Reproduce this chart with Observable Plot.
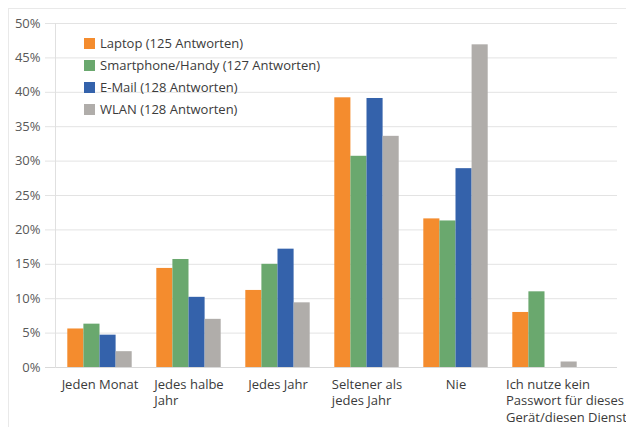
<!DOCTYPE html>
<html>
<head>
<meta charset="utf-8">
<script src="https://cdn.jsdelivr.net/npm/d3@7"></script>
<script src="https://cdn.jsdelivr.net/npm/@observablehq/plot@0.6"></script>
<style>
  body { margin: 0; background: #fff; font-family: "Open Sans", sans-serif; }
  #wrap { position: relative; width: 626px; height: 427px; overflow: hidden; background: #fff; }
  #border { position: absolute; left: 8px; top: 8px; width: 800px; height: 600px;
            border-left: 1px solid #e9e9e9; border-top: 1px solid #e9e9e9; pointer-events: none; }
  #chart { position: absolute; left: 0; top: 0; }
  #legend { position: absolute; left: 84px; top: 32px; font-size: 13px; color: #3b3b3b; }
  .row { display: flex; align-items: center; height: 22px; white-space: nowrap; }
  .sw { width: 11px; height: 11px; margin-right: 5px; }
</style>
</head>
<body>
<div id="wrap">
  <div id="border"></div>
  <div id="chart"></div>
  <div id="legend"></div>
</div>
<script>
// ---- data ----
const categories = ["Jeden Monat", "Jedes halbe Jahr", "Jedes Jahr", "Seltener als jedes Jahr", "Nie", "Ich nutze kein Passwort für dieses Gerät/diesen Dienst"];
const categoryLabels = ["Jeden Monat", "Jedes halbe\nJahr", "Jedes Jahr", "Seltener als\njedes Jahr", "Nie", "Ich nutze kein\nPasswort für dieses\nGerät/diesen Dienst"];
const seriesNames = ["Laptop (125 Antworten)", "Smartphone/Handy (127 Antworten)", "E-Mail (128 Antworten)", "WLAN (128 Antworten)"];
const laptop     = [5.6, 14.4, 11.2, 39.2, 21.6, 8.0];
const smartphone = [6.3, 15.7, 15.0, 30.7, 21.3, 11.0];
const email      = [4.7, 10.2, 17.2, 39.1, 28.9, 0];
const wlan       = [2.3, 7.0, 9.4, 33.6, 46.9, 0.8];
const yTicks = [0, 5, 10, 15, 20, 25, 30, 35, 40, 45, 50];
const colors = ["#f48c2e", "#6aa86e", "#3462ab", "#b0adaa"];

const seriesValues = [laptop, smartphone, email, wlan];
const rows = [];
seriesValues.forEach((vals, j) => vals.forEach((v, i) => rows.push({cat: categories[i], series: seriesNames[j], j, value: v})));

// ---- layout ----
const W = 626, H = 427, mL = 55, mR = 9, mT = 23, mB = 60, xInsetR = 28;
const bw = (W - mL - mR - xInsetR) / categories.length;
const barW = 16.1;
const gap = (bw - 4 * barW) / 2;

const ctx = document.createElement("canvas").getContext("2d");
ctx.font = "13px 'Open Sans'";
const labelMarks = categories.map((c, i) => {
  const w = d3.max(categoryLabels[i].split("\n"), s => ctx.measureText(s).width);
  return Plot.text([{cat: c, label: categoryLabels[i]}], {
    x: "cat", y: () => 0, text: "label", textAnchor: "start", lineAnchor: "top",
    lineHeight: 1.3, dx: -Math.min(w, 78) / 2, dy: 9, fill: "#3b3b3b", fontSize: 13
  });
});

const chart = Plot.plot({
  width: W, height: H,
  marginLeft: mL, marginRight: mR, marginTop: mT, marginBottom: mB,
  style: {fontFamily: "'Open Sans', sans-serif", fontSize: "13px", color: "#595959", background: "transparent"},
  x: {domain: categories, padding: 0, insetRight: xInsetR, axis: null},
  y: {domain: [0, 50], ticks: yTicks, tickFormat: d => d + "%", tickSize: 0, tickPadding: 15, label: null},
  marks: [
    Plot.ruleY(yTicks, {stroke: "#e3e3e3", insetLeft: -10}),
    Plot.ruleY([0], {stroke: "#d9d9d9", insetLeft: -10}),
    Plot.frame({anchor: "left", stroke: "#e0e0e0"}),
    ...seriesNames.map((s, j) => Plot.barY(rows.filter(d => d.j === j), {
      x: "cat", y: "value", fill: colors[j],
      insetLeft: gap + barW * j, insetRight: gap + barW * (3 - j)
    })),
    ...labelMarks
  ]
});
document.getElementById("chart").appendChild(chart);

// ---- legend ----
const legend = document.getElementById("legend");
seriesNames.forEach((s, j) => {
  const row = document.createElement("div");
  row.className = "row";
  const sw = document.createElement("span");
  sw.className = "sw";
  sw.style.background = colors[j];
  const t = document.createElement("span");
  t.textContent = s;
  row.appendChild(sw); row.appendChild(t);
  legend.appendChild(row);
});
</script>
</body>
</html>
